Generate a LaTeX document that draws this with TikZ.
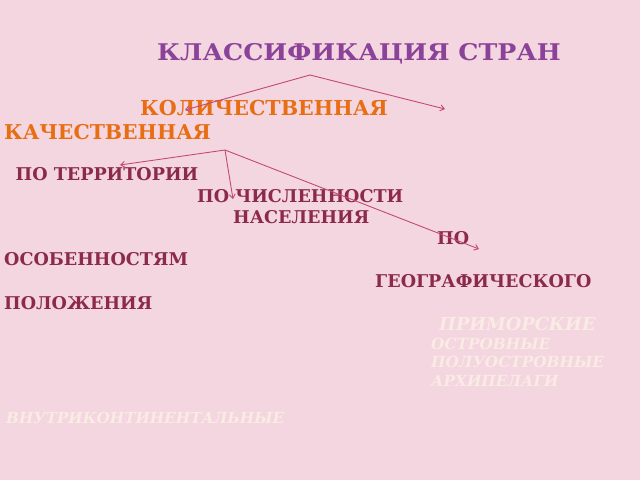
\documentclass[tikz,border=0pt]{standalone}
\usepackage{fontspec}
\setmainfont{DejaVu Serif}
\usetikzlibrary{arrows.meta}
\definecolor{bg}{HTML}{F4D6E0}
\definecolor{ttl}{HTML}{8B4299}
\definecolor{org}{HTML}{E86E14}
\definecolor{drd}{HTML}{8C2A4B}
\definecolor{crm}{HTML}{FAEBE4}
\definecolor{arc}{HTML}{C44878}
\tikzset{
  lbl/.style={anchor=base west,inner sep=0pt,font=\bfseries},
  ttlstyle/.style={lbl,text=ttl},
  orgstyle/.style={lbl,text=org},
  drdstyle/.style={lbl,text=drd},
  crmstyle/.style={lbl,text=crm},
  arr/.style={draw=arc,line width=0.9pt,-{Straight Barb[length=4pt,width=6pt]}}
}
\newcommand{\fs}[1]{\fontsize{#1}{#1}\selectfont}
\begin{document}
\begin{tikzpicture}[x=1pt,y=-1pt]
\fill[bg] (0,0) rectangle (640,480);
\useasboundingbox (0,0) rectangle (640,480);
\node[ttlstyle] (title) at (157,60) {\fs{23}\scalebox{1.1}[1]{КЛАССИФИКАЦИЯ СТРАН}};
\node[orgstyle] (kol) at (140,115) {\fs{20.6}КОЛИЧЕСТВЕННАЯ};
\node[orgstyle] (kach) at (4,139) {\fs{20.4}КАЧЕСТВЕННАЯ};
\node[drdstyle] (terr) at (15.5,180) {\fs{17.6}ПО ТЕРРИТОРИИ};
\node[drdstyle] (chisl) at (197,202) {\fs{17.6}ПО ЧИСЛЕННОСТИ};
\node[drdstyle] (nasel) at (233,223) {\fs{17.6}НАСЕЛЕНИЯ};
\node[drdstyle] (po) at (437,244) {\fs{17.6}ПО};
\node[drdstyle] (osob) at (4,265) {\fs{17.6}ОСОБЕННОСТЯМ};
\node[drdstyle] (geo) at (375,287) {\fs{17.6}ГЕОГРАФИЧЕСКОГО};
\node[drdstyle] (polozh) at (4,309) {\fs{17.6}ПОЛОЖЕНИЯ};
\node[crmstyle] (prim) at (439,330) {\fs{17.8}\itshape ПРИМОРСКИЕ};
\node[crmstyle] (ostr) at (431,349) {\fs{15.3}\itshape ОСТРОВНЫЕ};
\node[crmstyle] (poluo) at (431,367) {\fs{15.3}\itshape ПОЛУОСТРОВНЫЕ};
\node[crmstyle] (arch) at (431,386) {\fs{15.3}\itshape АРХИПЕЛАГИ};
\node[crmstyle] (vnutr) at (6,423) {\fs{15.2}\itshape ВНУТРИКОНТИНЕНТАЛЬНЫЕ};
% connectors
\coordinate (j1) at (310,75);
\coordinate (e1l) at (185,110);
\coordinate (e1r) at (445,109);
\coordinate (j2) at (225,150);
\coordinate (e2l) at (120,165);
\coordinate (e2d) at (233,199);
\coordinate (e2r) at (479,249);
\draw[arr] (j1) -- (e1l);
\draw[arr] (j1) -- (e1r);
\draw[arr] (j2) -- (e2l);
\draw[arr] (j2) -- (e2d);
\draw[arr] (j2) -- (e2r);
\end{tikzpicture}
\end{document}
